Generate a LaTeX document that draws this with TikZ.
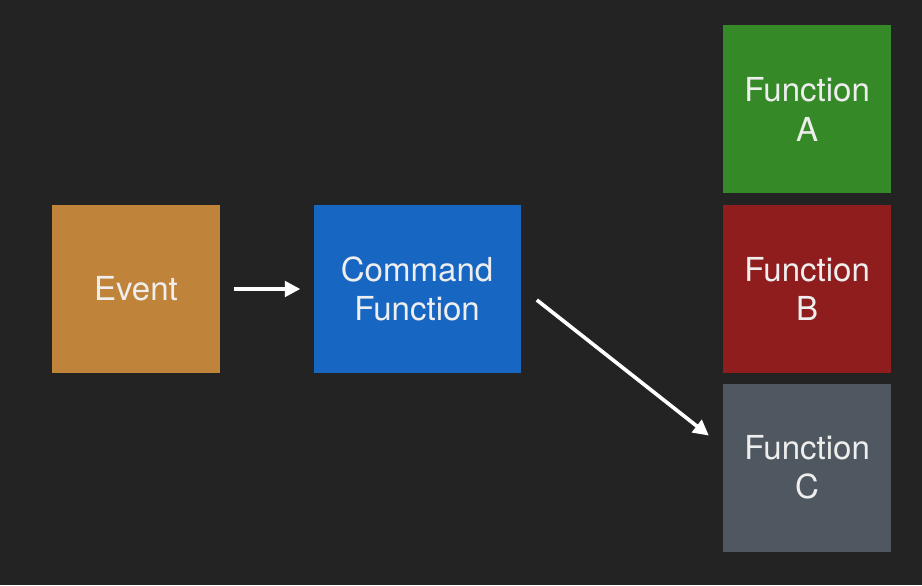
\documentclass[tikz,border=0pt]{standalone}
\usepackage{fontspec}
\setmainfont{TeX Gyre Heros}
\usepackage{tikz}
\usetikzlibrary{arrows.meta,positioning,calc}
\definecolor{bgdark}{HTML}{232323}
\definecolor{eventorange}{HTML}{BF843A}
\definecolor{cmdblue}{HTML}{1766C2}
\definecolor{fungreen}{HTML}{358A27}
\definecolor{funred}{HTML}{8F1D1D}
\definecolor{fungrey}{HTML}{4F5860}
\definecolor{textwhite}{HTML}{EEEEEE}

\begin{document}
\begin{tikzpicture}[
    node distance=2.325cm and 2.325cm,
    block/.style={minimum height=4.2cm,minimum width=4.2cm,inner sep=0pt,align=center,
        text=textwhite,font=\fontsize{23.5}{28}\selectfont},
    arrow/.style={-{Triangle[length=11pt,width=11pt]},line width=2.6pt,white}
]
\fill[bgdark] (0,0) rectangle (23.05,-14.625);
\node[block,fill=eventorange] (event) at (3.4,-7.225) {Event};
\node[block,fill=cmdblue,minimum width=5.175cm,right=of event] (cmd) {Command\\Function};
\node[block,fill=funred,right=5.05cm of cmd] (funb) {Function\\B};
\node[block,fill=fungreen,above=0.275cm of funb] (funa) {Function\\A};
\node[block,fill=fungrey,below=0.25cm of funb] (func) {Function\\C};
\draw[arrow,shorten <=0.35cm,shorten >=0.325cm] (event) -- (cmd);
\draw[arrow] ([shift={(0.4,-0.275)}]cmd.east) -- ([shift={(-0.35,0.8)}]func.west);
\end{tikzpicture}
\end{document}
